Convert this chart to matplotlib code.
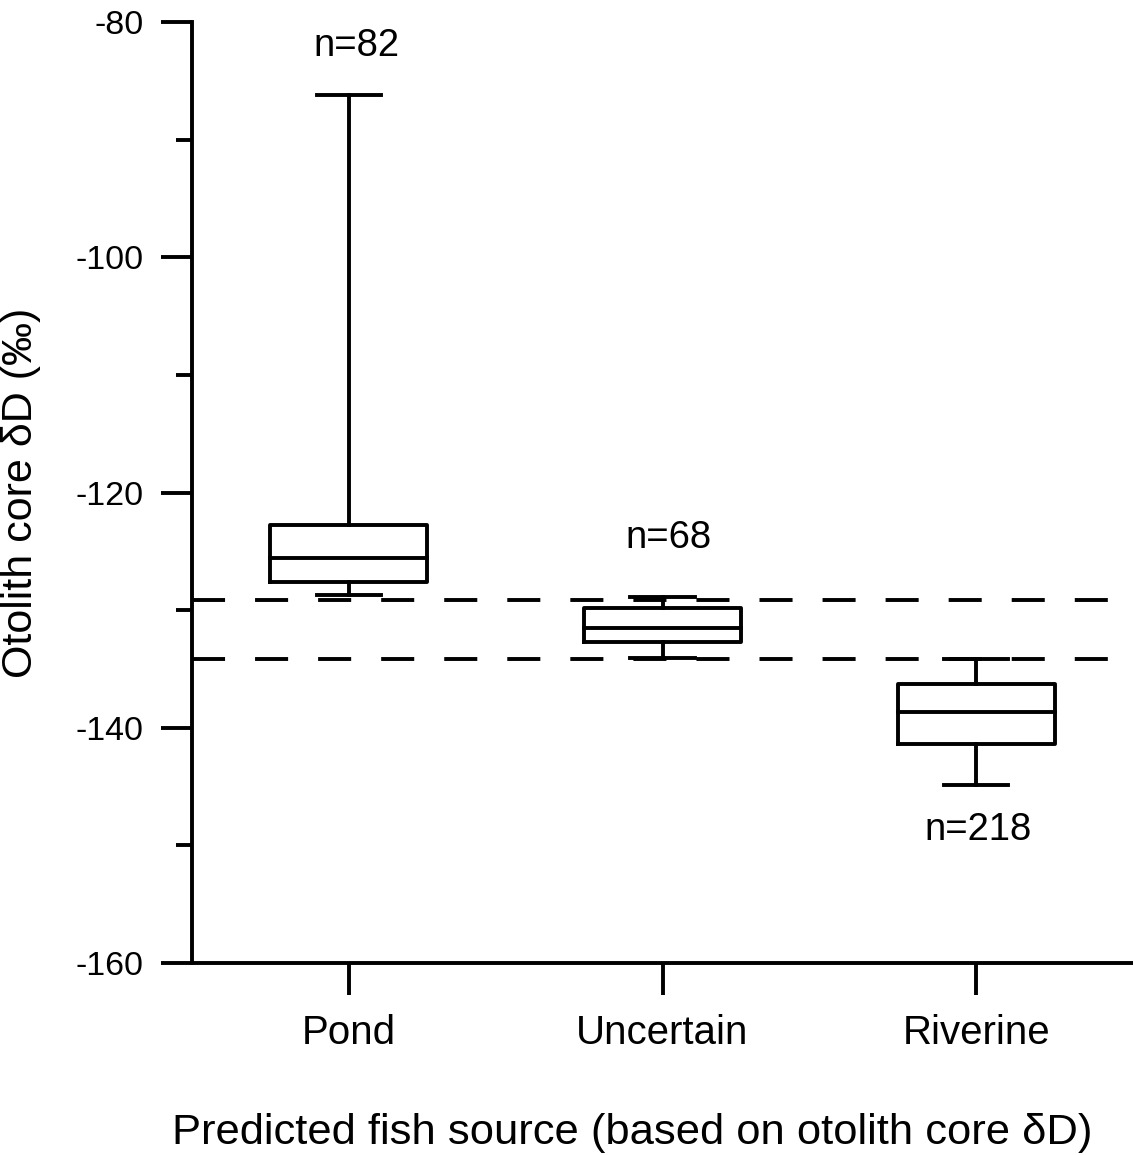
import matplotlib
matplotlib.use("Agg")
import matplotlib.pyplot as plt
from matplotlib.ticker import MultipleLocator

plt.rcParams['font.family'] = ['Liberation Sans', 'DejaVu Sans']
plt.rcParams['lines.scale_dashes'] = False
plt.rcParams['axes.unicode_minus'] = False

# five-number summaries read per source group (per mil)
groups = ['Pond', 'Uncertain', 'Riverine']
n_fish = [82, 68, 218]
whisk_lo = [-128.7, -134.1, -144.9]
q1 = [-127.6, -132.7, -141.4]
med = [-125.6, -131.5, -138.7]
q3 = [-122.8, -129.8, -136.3]
whisk_hi = [-86.2, -128.9, -134.15]

# cut-offs separating pond and riverine fish
cutoffs = [-129.1, -134.15]

# where the n= labels sit
n_label_y = [-82.0, -123.9, -148.7]
n_label_dx = [0.025, 0.02, 0.005]

LW = 2.8

fig = plt.figure(figsize=(11.33, 11.55), dpi=100)
ax = fig.add_axes([192 / 1133, 1 - 963 / 1155, 1 - 192 / 1133, (963 - 22) / 1155])

stats = []
for i, g in enumerate(groups):
    stats.append(dict(label=g, whislo=whisk_lo[i], q1=q1[i], med=med[i],
                      q3=q3[i], whishi=whisk_hi[i], fliers=[]))

pos = list(range(1, len(groups) + 1))
line = dict(color='black', linewidth=LW, solid_capstyle='projecting')
ax.bxp(stats, positions=pos, widths=0.5, capwidths=0.206, showfliers=False,
       boxprops=line, whiskerprops=line, capprops=line,
       medianprops=line)

for c in cutoffs:
    ax.axhline(c, color='black', linewidth=LW, dashes=(23.8, 21.6), zorder=1)

for i, n in enumerate(n_fish):
    ax.text(pos[i] + n_label_dx[i], n_label_y[i], f'n={n}', ha='center',
            va='center', fontsize=27.5)

ax.set_xlim(0.5, 3.5)
ax.set_ylim(-160, -80)
ax.yaxis.set_major_locator(MultipleLocator(20))
ax.yaxis.set_minor_locator(MultipleLocator(10))
ax.set_xticks(pos)
ax.set_xticklabels(groups)

for s in ['top', 'right']:
    ax.spines[s].set_visible(False)
for s in ['left', 'bottom']:
    ax.spines[s].set_linewidth(LW)

ax.tick_params(axis='y', which='major', direction='out', length=22, width=LW,
               labelsize=24.5, pad=13)
ax.tick_params(axis='y', which='minor', direction='out', length=11.5, width=LW)
ax.tick_params(axis='x', which='major', direction='out', length=23, width=LW,
               labelsize=29, pad=14)

ax.set_ylabel('Otolith core δD (‰)', fontsize=31)
ax.yaxis.set_label_coords(-0.160, 0.5)
ax.set_xlabel('Predicted fish source (based on otolith core δD)', fontsize=31.3)
ax.xaxis.label.set_va('baseline')
ax.xaxis.set_label_coords(0.4676, -0.192)

fig.savefig('out.png', dpi=100)
